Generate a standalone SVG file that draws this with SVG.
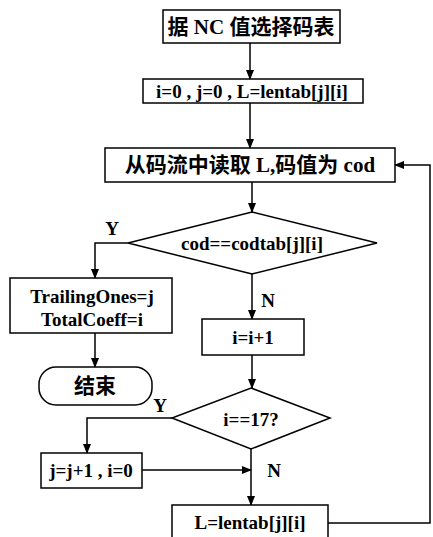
<svg xmlns="http://www.w3.org/2000/svg" width="433" height="537" viewBox="0 0 433 537">
<defs>
<marker id="ah" markerWidth="10" markerHeight="10" refX="9" refY="5" orient="auto" markerUnits="userSpaceOnUse">
<path d="M0,1 L10,5 L0,9 Z" fill="#000"/>
</marker>
<style>
.box{fill:#fff;stroke:#000;stroke-width:1.5}
.ln{fill:none;stroke:#000;stroke-width:1.5}
.t{font-family:"Liberation Serif","Noto Sans CJK SC",serif;font-weight:bold;font-size:19px;text-anchor:middle;dominant-baseline:central;fill:#000}
.c{font-family:"Liberation Serif","Noto Sans CJK SC",serif;font-weight:bold;font-size:21px;text-anchor:middle;dominant-baseline:central;fill:#000}
</style>
</defs>
<rect width="433" height="537" fill="#fff"/>
<g id="connectors">
<path class="ln" d="M250,43 V79" marker-end="url(#ah)"/>
<path class="ln" d="M250,103 V148" marker-end="url(#ah)"/>
<path class="ln" d="M252,182 V212" marker-end="url(#ah)"/>
<path class="ln" d="M128,243 H95 V278" marker-end="url(#ah)"/>
<path class="ln" d="M95,333 V367" marker-end="url(#ah)"/>
<path class="ln" d="M252,274 V319" marker-end="url(#ah)"/>
<path class="ln" d="M252,355 V388" marker-end="url(#ah)"/>
<path class="ln" d="M172,418 H87 V453" marker-end="url(#ah)"/>
<path class="ln" d="M142,470 H251" marker-end="url(#ah)"/>
<path class="ln" d="M251,449 V505" marker-end="url(#ah)"/>
<path class="ln" d="M328,523 H430 V165 H395" marker-end="url(#ah)"/>
<text class="t" x="112" y="228">Y</text>
<text class="t" x="268" y="300">N</text>
<text class="t" x="160" y="405">Y</text>
<text class="t" x="274" y="470">N</text>
</g>
<g id="n1"><rect class="box" x="163" y="10" width="177" height="33"/><text class="c" x="251" y="27">据 NC 值选择码表</text></g>
<g id="n2"><rect class="box" x="143" y="79" width="220" height="24"/><text class="t" x="252" y="91">i=0 , j=0 , L=lentab[j][i]</text></g>
<g id="n3"><rect class="box" x="105" y="148" width="290" height="34"/><text class="c" x="250" y="165">从码流中读取 L,码值为 cod</text></g>
<g id="n4"><polygon class="box" points="252,212 377,243 252,274 128,243"/><text class="t" x="252" y="243">cod==codtab[j][i]</text></g>
<g id="n5"><rect class="box" x="10" y="278" width="162" height="55"/><text class="t" x="92" y="296">TrailingOnes=j</text><text class="t" x="92" y="319">TotalCoeff=i</text></g>
<g id="n6"><rect class="box" x="39" y="367" width="113" height="38" rx="17"/><text class="c" x="95" y="386">结束</text></g>
<g id="n7"><rect class="box" x="202" y="319" width="102" height="36"/><text class="t" x="253" y="337">i=i+1</text></g>
<g id="n8"><polygon class="box" points="251,388 330,418 251,449 172,418"/><text class="t" x="251" y="419">i==17?</text></g>
<g id="n9"><rect class="box" x="41" y="453" width="101" height="35"/><text class="t" x="91" y="470">j=j+1 , i=0</text></g>
<g id="n10"><rect class="box" x="172" y="505" width="156" height="36"/><text class="t" x="250" y="522">L=lentab[j][i]</text></g>
</svg>
